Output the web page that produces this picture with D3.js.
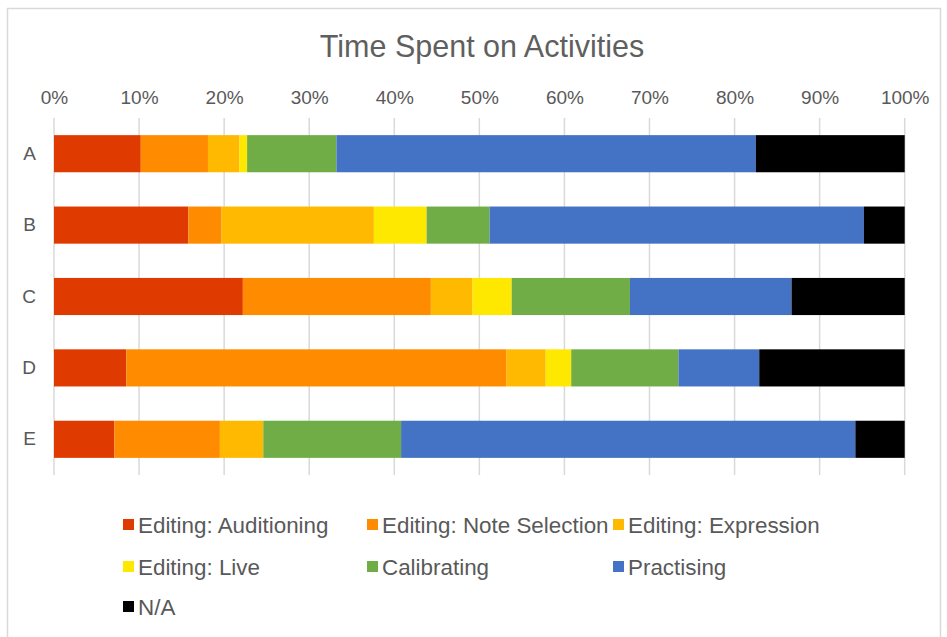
<!DOCTYPE html>
<html>
<head>
<meta charset="utf-8">
<script src="https://cdn.jsdelivr.net/npm/d3@7"></script>
<style>
    body { margin: 0; background: #fff; }
    svg { display: block; font-family: "Liberation Sans", Arial, sans-serif; }
    .axis text { fill: #595959; }
</style>
</head>
<body>
<svg id="chart" width="947" height="637"></svg>
<script>
// participants
const categories = ["A", "B", "C", "D", "E"];

// share of time per activity, in percent
const auditioning   = [10.2, 15.8, 22.2,  8.5,  7.1];
const noteSelection = [ 7.9,  3.9, 22.1, 44.7, 12.4];
const expression    = [ 3.7, 17.9,  4.9,  4.6,  5.1];
const live          = [ 0.9,  6.2,  4.6,  3.0,  0.0];
const calibrating   = [10.5,  7.4, 13.9, 12.6, 16.2];
const practising    = [49.3, 44.0, 19.0,  9.5, 53.4];
const notApplicable = [17.5,  4.8, 13.3, 17.1,  5.8];

const seriesNames = ["Editing: Auditioning", "Editing: Note Selection", "Editing: Expression",
    "Editing: Live", "Calibrating", "Practising", "N/A"];
const seriesValues = [auditioning, noteSelection, expression, live, calibrating, practising, notApplicable];
const seriesColors = ["#DF3B00", "#FF8C00", "#FFB900", "#FFE800", "#70AD47", "#4472C4", "#000000"];

const xTicks = [0, 0.1, 0.2, 0.3, 0.4, 0.5, 0.6, 0.7, 0.8, 0.9, 1];

const svg = d3.select("#chart");
const margins = {left: 54, right: 42, top: 118, bottom: 162};
const width = 947, height = 637;

// chart border
svg.append("rect")
    .attr("x", 7.5).attr("y", 8.5)
    .attr("width", 933).attr("height", 640)
    .attr("fill", "none")
    .attr("stroke", "#d9d9d9")
    .attr("stroke-width", 1.5);

// build rows for the stack
const rows = categories.map((c, i) => {
    const row = {category: c};
    seriesNames.forEach((s, j) => row[s] = seriesValues[j][i] / 100);
    return row;
});
const stacked = d3.stack().keys(seriesNames)(rows);

const x = d3.scaleLinear()
    .domain([0, 1])
    .range([margins.left, width - margins.right - 0.3]);
const y = d3.scaleBand()
    .domain(categories)
    .range([margins.top, height - margins.bottom])
    .paddingInner(0.48)
    .paddingOuter(0.24);

// title
svg.append("text")
    .attr("x", 482)
    .attr("y", 57)
    .attr("text-anchor", "middle")
    .attr("fill", "#5f5f5f")
    .style("font-size", "30.5px")
    .text("Time Spent on Activities");

// gridlines
svg.append("g")
    .attr("class", "grid")
    .selectAll("line")
    .data(xTicks)
    .enter()
    .append("line")
    .attr("x1", d => x(d)).attr("x2", d => x(d))
    .attr("y1", margins.top).attr("y2", height - margins.bottom)
    .attr("stroke", "#d9d9d9")
    .attr("stroke-width", 1.5);

// top axis with percent labels
const xAxis = d3.axisTop(x)
    .tickValues(xTicks)
    .tickFormat(d3.format(".0%"))
    .tickSize(0)
    .tickPadding(0);
svg.append("g")
    .attr("class", "axis")
    .attr("transform", "translate(0,104)")
    .call(xAxis)
    .call(g => g.select(".domain").remove())
    .selectAll("text")
    .style("font-size", "19px")
    .attr("font-family", null);

// category axis
const yAxis = d3.axisLeft(y).tickSize(0).tickPadding(18);
svg.append("g")
    .attr("class", "axis")
    .attr("transform", `translate(${margins.left},0)`)
    .call(yAxis)
    .call(g => g.select(".domain").remove())
    .selectAll("text")
    .style("font-size", "19px")
    .attr("font-family", null);

// bars
svg.append("g")
    .selectAll("g")
    .data(stacked)
    .enter()
    .append("g")
    .attr("fill", (d, i) => seriesColors[i])
    .selectAll("rect")
    .data(d => d)
    .enter()
    .append("rect")
    .attr("x", d => x(d[0]))
    .attr("y", d => y(d.data.category))
    .attr("width", d => Math.max(0, x(d[1]) - x(d[0])))
    .attr("height", y.bandwidth());

// legend
const legendCols = [123, 367, 613];
const legendRows = [519, 561, 601];
const legend = svg.append("g")
    .selectAll("g")
    .data(seriesNames)
    .enter()
    .append("g")
    .attr("transform", (d, i) => `translate(${legendCols[i % 3]},${legendRows[Math.floor(i / 3)]})`);
legend.append("rect")
    .attr("width", 11).attr("height", 11)
    .attr("fill", (d, i) => seriesColors[i]);
legend.append("text")
    .attr("x", 15)
    .attr("y", 14)
    .attr("fill", "#595959")
    .style("font-size", "22.4px")
    .text(d => d);
</script>
</body>
</html>
